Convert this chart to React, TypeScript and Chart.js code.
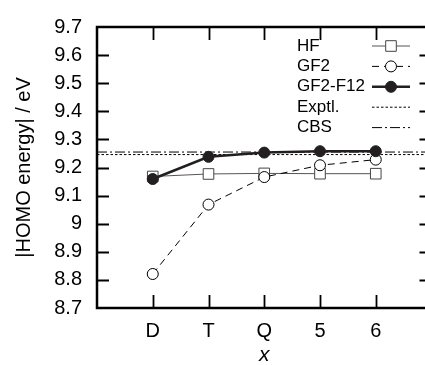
import { useEffect, useRef } from "react";
import { Chart, registerables } from "chart.js";

Chart.register(...registerables);

// Basis-set cardinal numbers along x
const BASIS = ["D", "T", "Q", "5", "6"];
// |HOMO energy| in eV for each method
const HF = [9.168, 9.177, 9.179, 9.178, 9.178];
const GF2 = [8.821, 9.068, 9.166, 9.208, 9.228];
const GF2_F12 = [9.159, 9.238, 9.253, 9.258, 9.258];
// Reference levels
const EXPTL = 9.246;
const CBS = 9.255;
// Y axis ticks
const Y_TICKS = [8.7, 8.8, 8.9, 9.0, 9.1, 9.2, 9.3, 9.4, 9.5, 9.6, 9.7];

const W = 440;
const H = 365;
const FONT = "'Liberation Sans', Arial, Helvetica, sans-serif";

const toPoints = (vals: number[]) => vals.map((v, i) => ({ x: i + 1, y: v }));
const flat = (v: number) => [
  { x: 0, y: v },
  { x: BASIS.length + 1, y: v },
];

function drawMarker(ctx: CanvasRenderingContext2D, ds: any, x: number, y: number) {
  const r = ds.pointRadius || 0;
  if (!r) return;
  ctx.save();
  ctx.setLineDash([]);
  ctx.lineWidth = ds.pointBorderWidth ?? 1;
  ctx.strokeStyle = ds.pointBorderColor;
  ctx.fillStyle = ds.pointBackgroundColor;
  ctx.beginPath();
  if (ds.pointStyle === "rect") {
    const s = Math.SQRT1_2 * r;
    ctx.rect(x - s, y - s, 2 * s, 2 * s);
  } else {
    ctx.arc(x, y, r, 0, Math.PI * 2);
  }
  ctx.fill();
  ctx.stroke();
  ctx.restore();
}

// Box frame with inward tick marks on all four sides
const framePlugin = {
  id: "frame",
  afterDatasetsDraw(chart: any) {
    const { ctx, chartArea: a, scales } = chart;
    ctx.save();
    ctx.strokeStyle = "#000";
    ctx.lineWidth = 1.8;
    ctx.beginPath();
    for (const v of Y_TICKS.slice(1, -1)) {
      const py = Math.round(scales.y.getPixelForValue(v)) + 0.5;
      ctx.moveTo(a.left, py);
      ctx.lineTo(a.left + 12, py);
      ctx.moveTo(a.right, py);
      ctx.lineTo(a.right - 12, py);
    }
    BASIS.forEach((_, i) => {
      const px = Math.round(scales.x.getPixelForValue(i + 1)) + 0.5;
      ctx.moveTo(px, a.bottom);
      ctx.lineTo(px, a.bottom - 13);
      ctx.moveTo(px, a.top);
      ctx.lineTo(px, a.top + 13);
    });
    ctx.stroke();
    ctx.lineWidth = 2.5;
    ctx.strokeRect(a.left, a.top, a.right - a.left, a.bottom - a.top);
    ctx.restore();
  },
};

// Key inside the plot: label on the left, line sample on the right
const keyPlugin = {
  id: "key",
  afterDatasetsDraw(chart: any) {
    const { ctx } = chart;
    const textX = 297;
    const x0 = 372;
    const x1 = 410;
    ctx.save();
    ctx.font = `17px ${FONT}`;
    ctx.textBaseline = "middle";
    ctx.textAlign = "left";
    chart.data.datasets.forEach((ds: any, i: number) => {
      const y = 46 + i * 20.4;
      ctx.fillStyle = "#000";
      ctx.fillText(ds.label, textX, y);
      ctx.save();
      ctx.strokeStyle = ds.borderColor;
      ctx.lineWidth = ds.borderWidth;
      ctx.setLineDash(ds.borderDash || []);
      ctx.beginPath();
      ctx.moveTo(x0, y);
      ctx.lineTo(x1, y);
      ctx.stroke();
      ctx.restore();
      drawMarker(ctx, ds, (x0 + x1) / 2, y);
    });
    ctx.restore();
  },
};

export default function App() {
  const ref = useRef<HTMLCanvasElement | null>(null);

  useEffect(() => {
    if (!ref.current) return;
    const chart = new Chart(ref.current, {
      type: "line",
      data: {
        datasets: [
          {
            label: "HF",
            data: toPoints(HF),
            borderColor: "#555",
            borderWidth: 1,
            pointStyle: "rect",
            pointRadius: 7.5,
            pointBorderColor: "#444",
            pointBackgroundColor: "#fff",
            pointBorderWidth: 1,
            order: 2,
          },
          {
            label: "GF2",
            data: toPoints(GF2),
            borderColor: "#000",
            borderWidth: 1,
            borderDash: [7, 5],
            pointStyle: "circle",
            pointRadius: 5.5,
            pointBorderColor: "#000",
            pointBackgroundColor: "#fff",
            pointBorderWidth: 1,
            order: 1,
          },
          {
            label: "GF2-F12",
            data: toPoints(GF2_F12),
            borderColor: "#231f20",
            borderWidth: 2.5,
            pointStyle: "circle",
            pointRadius: 5.5,
            pointBorderColor: "#231f20",
            pointBackgroundColor: "#231f20",
            pointBorderWidth: 1,
            order: 0,
          },
          {
            label: "Exptl.",
            data: flat(EXPTL),
            borderColor: "#000",
            borderWidth: 1,
            borderDash: [2.5, 2],
            pointRadius: 0,
            order: 3,
          },
          {
            label: "CBS",
            data: flat(CBS),
            borderColor: "#000",
            borderWidth: 1,
            borderDash: [10, 3, 2, 3],
            pointRadius: 0,
            order: 4,
          },
        ] as any,
      },
      options: {
        animation: false,
        responsive: false,
        maintainAspectRatio: false,
        layout: { padding: { top: 20, right: 5, left: 0, bottom: 0 } },
        plugins: {
          legend: { display: false },
          tooltip: { enabled: false },
        },
        elements: { line: { tension: 0 } },
        scales: {
          x: {
            type: "linear",
            min: 0,
            max: BASIS.length + 1,
            afterBuildTicks: (s: any) => {
              s.ticks = BASIS.map((_, i) => ({ value: i + 1 }));
            },
            afterFit: (s: any) => {
              s.height = 57;
            },
            grid: { display: false, drawTicks: false },
            border: { display: false },
            ticks: {
              autoSkip: false,
              maxRotation: 0,
              padding: 11,
              color: "#000",
              font: { family: FONT, size: 20 },
              callback: (v: any) => BASIS[Number(v) - 1] ?? "",
            },
            title: {
              display: true,
              text: "x",
              color: "#000",
              padding: { top: 0, bottom: 0 },
              font: { family: FONT, size: 21, style: "italic", lineHeight: 0.9 },
            },
          },
          y: {
            type: "linear",
            min: 8.7,
            max: 9.7,
            afterBuildTicks: (s: any) => {
              s.ticks = Y_TICKS.map((v) => ({ value: v }));
            },
            afterFit: (s: any) => {
              s.width = 97;
            },
            grid: { display: false, drawTicks: false },
            border: { display: false },
            ticks: {
              autoSkip: false,
              padding: 15,
              color: "#000",
              font: { family: FONT, size: 20 },
              callback: (v: any) => String(Number(Number(v).toFixed(1))),
            },
            title: {
              display: true,
              text: "|HOMO energy| / eV",
              color: "#000",
              padding: { top: 12, bottom: 0 },
              font: { family: FONT, size: 20 },
            },
          },
        },
      },
      plugins: [framePlugin, keyPlugin],
    });
    return () => chart.destroy();
  }, []);

  return (
    <div
      style={{
        position: "fixed",
        left: 0,
        top: 0,
        width: 425,
        height: H,
        overflow: "hidden",
        background: "#fff",
      }}
    >
      <canvas ref={ref} width={W} height={H} style={{ width: W, height: H, display: "block" }} />
    </div>
  );
}
